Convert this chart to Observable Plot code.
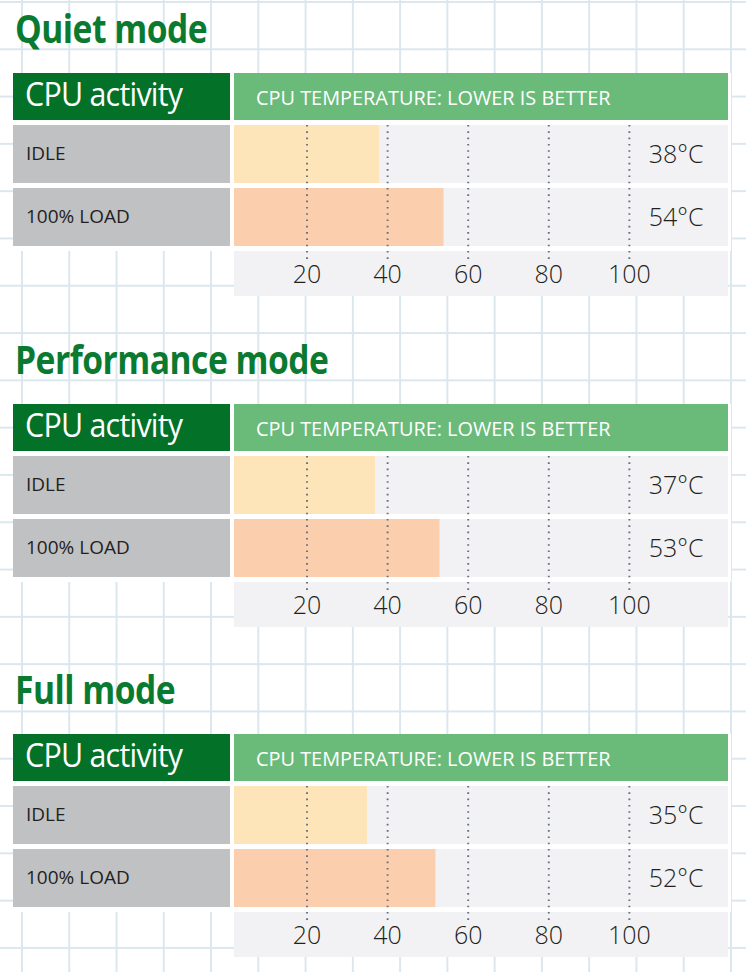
<!DOCTYPE html>
<html>
<head>
<meta charset="utf-8">
<script src="https://cdn.jsdelivr.net/npm/d3@7"></script>
<script src="https://cdn.jsdelivr.net/npm/@observablehq/plot@0.6"></script>
<style>
  html, body { margin: 0; padding: 0; }
  body {
    width: 746px; height: 972px; overflow: hidden; position: relative;
    font-family: "Open Sans", "Noto Sans", sans-serif;
    background-color: #ffffff;
    background-image:
      linear-gradient(to right, #dbe7ee 2px, transparent 2px),
      linear-gradient(to bottom, #dbe7ee 2px, transparent 2px);
    background-size: 47.27px 47.3px;
    background-position: 21px 1px;
  }
  .section { position: absolute; left: 0; width: 746px; height: 331px; }
  .title {
    position: absolute; left: 15px; top: 0px; font-size: 40px; line-height: normal;
    font-weight: 700; color: #0a7a30; white-space: nowrap;
    transform: scaleX(0.84); transform-origin: left top; letter-spacing: -0.6px;
  }
  .table-bg { position: absolute; left: 13px; top: 73px; width: 718px; height: 178px; background: #fff; }
  .hdr-left { position: absolute; left: 13px; top: 73px; width: 217px; height: 47px; background: #037128; }
  .hdr-left span {
    position: absolute; left: 12px; top: 5px; font-size: 32px; line-height: 1; color: #fff;
    white-space: nowrap; transform: scaleX(0.95); transform-origin: left top; letter-spacing: -0.8px;
  }
  .hdr-right { position: absolute; left: 234px; top: 73px; width: 494px; height: 47px; background: #6aba7a; }
  .hdr-right span {
    position: absolute; left: 22px; top: 15px; font-size: 19.5px; line-height: 1; color: #fff;
    font-weight: 500; white-space: nowrap; transform: scaleX(1.02); transform-origin: left top;
  }
  .lbl { position: absolute; left: 13px; width: 217px; height: 58px; background: #c0c1c3; }
  .lbl span {
    position: absolute; left: 13px; top: 19px; font-size: 19px; line-height: 1; color: #231f20;
    font-weight: 500; white-space: nowrap;
  }
</style>
</head>
<body>
<script>
const modes = ["Quiet mode", "Performance mode", "Full mode"];
const activities = ["IDLE", "100% LOAD"];
const idleTemps = [38, 37, 35];
const loadTemps = [54, 53, 52];
const tickValues = [20, 40, 60, 80, 100];
const headerLeft = "CPU activity";
const headerRight = "CPU TEMPERATURE: LOWER IS BETTER";
const barColors = ["#fee5b9", "#fbcfad"];

const xDomain = [2, 124.6];
const sectionStep = 330.7;

modes.forEach((mode, i) => {
  const sec = document.createElement("div");
  sec.className = "section";
  sec.style.top = (i * sectionStep) + "px";
  document.body.appendChild(sec);

  const add = (cls, text, top) => {
    const d = document.createElement("div");
    d.className = cls;
    if (top !== undefined) d.style.top = top + "px";
    if (text !== undefined) {
      if (cls === "title") d.textContent = text;
      else { const s = document.createElement("span"); s.textContent = text; d.appendChild(s); }
    }
    sec.appendChild(d);
    return d;
  };
  add("table-bg");
  add("title", mode);
  add("hdr-left", headerLeft);
  add("hdr-right", headerRight);
  activities.forEach((a, j) => add("lbl", a, 125 + j * 63));

  const rows = activities.map((a, j) => ({activity: a, temp: [idleTemps, loadTemps][j][i]}));

  const chart = Plot.plot({
    width: 494,
    height: 171,
    marginTop: 0, marginRight: 0, marginLeft: 0, marginBottom: 50,
    x: {domain: xDomain, axis: null, label: null},
    y: {domain: activities, paddingInner: 0.0794, paddingOuter: 0, axis: null},
    color: {domain: activities, range: barColors},
    style: {
      background: "linear-gradient(to bottom, #ffffff 126px, #f2f2f4 126px)",
      overflow: "visible",
      fontFamily: "'Open Sans', sans-serif"
    },
    marks: [
      Plot.barX(activities, {y: d => d, x1: xDomain[0], x2: xDomain[1], fill: "#f2f2f4"}),
      Plot.barX(rows, {y: "activity", x1: 0, x2: "temp", fill: "activity", clip: true}),
      Plot.ruleX(tickValues, {stroke: "#637080", strokeWidth: 1.9, strokeDasharray: "1.6 4.7", insetBottom: -14}),
      Plot.axisX(tickValues, {
        tickSize: 0, tickPadding: 19, fontSize: 25, fontWeight: 300, fill: "#231f20",
        tickFormat: d => d, letterSpacing: "-2px", label: null
      }),
      Plot.text(rows, {
        y: "activity", frameAnchor: "right", dx: -25, textAnchor: "end",
        text: d => `${d.temp}°C`, fontSize: 25, fontWeight: 300, fill: "#231f20", letterSpacing: "-0.5px"
      })
    ]
  });
  chart.style.position = "absolute";
  chart.style.left = "234px";
  chart.style.top = "125px";
  sec.appendChild(chart);
});
</script>
</body>
</html>
